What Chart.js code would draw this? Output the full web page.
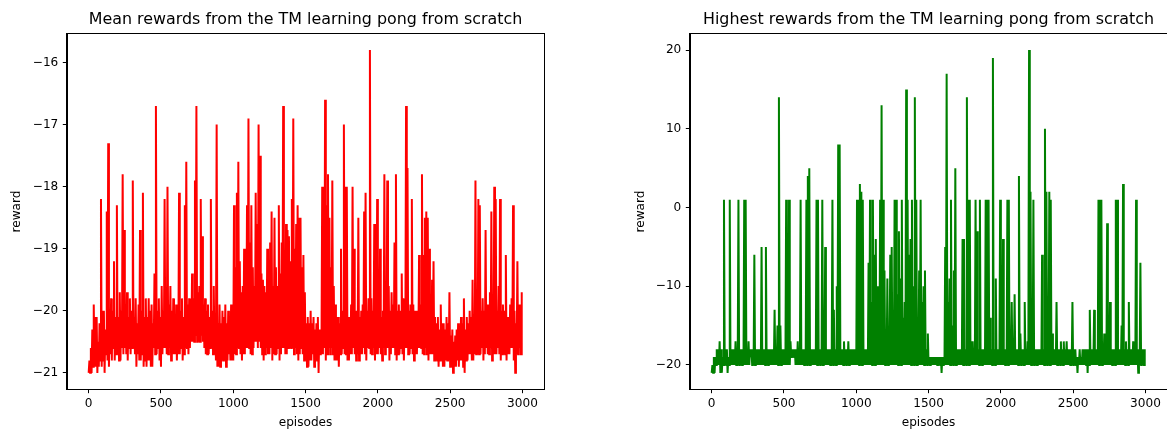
<!DOCTYPE html>
<html>
<head>
<meta charset="utf-8">
<script src="https://cdn.jsdelivr.net/npm/chart.js@4.4.0/dist/chart.umd.min.js"></script>
<style>
  html, body { margin: 0; padding: 0; background: #fff; }
  body { width: 1167px; height: 432px; position: relative; overflow: hidden; }
  .panel { position: absolute; top: 0; height: 432px; }
  #left { left: 0; width: 560px; }
  #right { left: 624px; width: 543px; }
</style>
</head>
<body>
<div class="panel" id="left"><canvas id="meanChart"></canvas></div>
<div class="panel" id="right"><canvas id="highChart"></canvas></div>
<script>
// the runs are too dense to read point by point, so every 10 episodes
// keep the lowest and the highest value
const meanLow = [
  -21.0,-21.0,-21.0,-20.9,-20.9,-20.9,-21.0,-20.9,-20.8,-20.9,
  -20.8,-21.0,-20.7,-20.8,-20.9,-20.7,-20.8,-20.6,-20.8,-20.7,
  -20.7,-20.8,-20.8,-20.6,-20.7,-20.6,-20.7,-20.8,-20.6,-20.7,
  -20.6,-20.6,-20.7,-20.9,-20.7,-20.8,-20.8,-20.7,-20.9,-20.8,
  -20.9,-20.8,-20.8,-20.9,-20.9,-20.6,-20.7,-20.7,-20.6,-20.8,
  -20.9,-20.7,-20.6,-20.6,-20.7,-20.7,-20.6,-20.8,-20.7,-20.7,
  -20.7,-20.8,-20.7,-20.7,-20.6,-20.8,-20.7,-20.6,-20.6,-20.7,
  -20.6,-20.5,-20.5,-20.5,-20.4,-20.5,-20.5,-20.5,-20.4,-20.5,
  -20.6,-20.7,-20.7,-20.7,-20.6,-20.6,-20.7,-20.7,-20.8,-20.9,
  -20.9,-20.9,-20.8,-20.8,-20.8,-20.9,-20.8,-20.7,-20.8,-20.8,
  -20.8,-20.7,-20.7,-20.6,-20.6,-20.7,-20.8,-20.7,-20.7,-20.6,
  -20.6,-20.6,-20.7,-20.7,-20.6,-20.5,-20.5,-20.6,-20.5,-20.6,
  -20.7,-20.8,-20.7,-20.6,-20.7,-20.7,-20.6,-20.8,-20.7,-20.7,
  -20.7,-20.6,-20.8,-20.7,-20.6,-20.6,-20.7,-20.7,-20.6,-20.6,
  -20.6,-20.6,-20.7,-20.6,-20.7,-20.8,-20.7,-20.6,-20.7,-20.8,
  -20.8,-20.9,-20.9,-20.8,-20.8,-20.7,-20.9,-20.8,-20.8,-21.0,
  -20.7,-20.7,-20.7,-20.6,-20.8,-20.7,-20.6,-20.7,-20.6,-20.7,
  -20.8,-20.8,-20.8,-20.9,-20.7,-20.7,-20.6,-20.7,-20.7,-20.8,
  -20.8,-20.7,-20.7,-20.6,-20.7,-20.8,-20.7,-20.8,-20.7,-20.7,
  -20.6,-20.7,-20.8,-20.6,-20.6,-20.7,-20.7,-20.6,-20.8,-20.7,
  -20.7,-20.6,-20.7,-20.8,-20.6,-20.7,-20.6,-20.6,-20.8,-20.7,
  -20.6,-20.6,-20.7,-20.8,-20.7,-20.7,-20.6,-20.7,-20.8,-20.6,
  -20.6,-20.7,-20.7,-20.6,-20.7,-20.8,-20.7,-20.7,-20.6,-20.6,
  -20.6,-20.7,-20.7,-20.6,-20.7,-20.8,-20.7,-20.7,-20.7,-20.8,
  -20.8,-20.8,-20.9,-20.8,-20.8,-20.9,-20.9,-20.8,-20.8,-20.8,
  -20.9,-20.9,-21.0,-20.9,-20.9,-20.8,-20.9,-20.8,-20.8,-20.9,
  -21.0,-20.8,-20.8,-20.7,-20.7,-20.8,-20.8,-20.7,-20.7,-20.7,
  -20.7,-20.7,-20.6,-20.8,-20.7,-20.6,-20.7,-20.7,-20.6,-20.8,
  -20.7,-20.7,-20.7,-20.6,-20.7,-20.8,-20.7,-20.7,-20.7,-20.8,
  -20.7,-20.7,-20.6,-20.6,-20.8,-21.0,-20.7,-20.7,-20.6,-20.7
];
const meanHigh = [
  -20.8,-20.6,-20.3,-19.9,-20.1,-20.1,-20.5,-20.2,-18.2,-20.0,
  -20.0,-20.3,-18.4,-17.3,-20.1,-19.8,-20.0,-19.2,-20.1,-18.3,
  -20.1,-19.7,-20.0,-17.8,-18.7,-19.9,-19.7,-20.1,-19.8,-20.0,
  -17.9,-20.1,-19.8,-20.2,-19.9,-18.7,-20.0,-18.1,-20.1,-19.8,
  -20.1,-19.8,-20.0,-19.9,-20.2,-19.4,-16.7,-20.0,-19.8,-20.1,
  -19.6,-20.0,-18.2,-20.1,-18.0,-19.9,-19.6,-20.0,-19.8,-20.1,
  -19.9,-20.1,-18.1,-20.0,-19.8,-20.1,-18.3,-17.6,-19.9,-19.8,
  -19.9,-19.4,-19.8,-17.9,-16.7,-19.7,-19.6,-18.2,-18.8,-19.9,
  -19.8,-20.0,-19.9,-20.1,-18.2,-20.0,-19.6,-20.1,-17.0,-20.2,
  -19.9,-20.2,-20.0,-20.1,-19.9,-20.2,-20.0,-20.1,-19.9,-20.1,
  -18.3,-19.3,-18.1,-17.6,-19.2,-19.7,-19.6,-19.0,-19.4,-18.3,
  -16.9,-18.9,-18.3,-19.3,-19.6,-18.1,-18.6,-17.0,-17.5,-19.4,
  -19.5,-19.6,-19.7,-19.0,-19.5,-18.9,-18.4,-19.6,-18.5,-19.3,
  -19.6,-18.3,-19.4,-18.9,-16.7,-19.2,-18.6,-18.7,-18.8,-19.2,
  -18.2,-16.9,-19.0,-18.6,-18.3,-18.5,-18.5,-19.3,-19.1,-19.7,
  -20.2,-20.1,-20.2,-20.0,-20.2,-20.1,-20.3,-20.2,-20.1,-20.3,
  -20.3,-18.0,-19.1,-16.6,-18.3,-17.8,-18.5,-19.3,-17.9,-19.6,
  -19.9,-20.1,-20.1,-20.2,-19.0,-20.0,-17.0,-18.0,-18.0,-20.1,
  -20.1,-19.9,-18.0,-19.0,-20.0,-20.0,-18.5,-20.1,-20.0,-19.9,
  -18.4,-18.1,-20.0,-19.8,-15.8,-19.8,-20.0,-18.6,-20.0,-18.2,
  -20.0,-19.0,-20.1,-20.0,-17.8,-19.9,-17.9,-19.6,-20.0,-19.7,
  -19.9,-18.9,-17.8,-20.0,-19.9,-20.0,-19.4,-19.8,-20.0,-16.7,
  -17.7,-20.0,-19.9,-18.2,-19.9,-20.0,-20.0,-20.1,-19.1,-19.9,
  -17.8,-19.1,-18.5,-18.4,-18.5,-19.0,-19.9,-19.5,-19.2,-20.1,
  -20.2,-20.1,-20.3,-19.9,-20.2,-20.2,-20.3,-20.1,-20.2,-19.7,
  -20.4,-20.3,-20.5,-20.4,-20.3,-20.2,-20.3,-20.1,-20.2,-19.8,
  -20.3,-20.1,-20.2,-20.0,-20.1,-19.5,-20.1,-17.9,-20.0,-18.2,
  -18.3,-20.0,-19.8,-20.0,-18.7,-19.9,-19.9,-19.7,-18.4,-20.0,
  -18.0,-18.2,-20.0,-19.6,-18.2,-20.0,-19.9,-20.0,-19.1,-20.1,
  -20.1,-19.9,-19.8,-18.3,-20.0,-20.2,-19.2,-19.9,-19.9,-19.7
];

const highestLow = [
  -21,-21,-21,-20,-20,-20,-21,-21,-20,-20,
  -20,-21,-20,-20,-20,-20,-20,-20,-20,-20,
  -20,-20,-20,-20,-20,-20,-20,-19,-20,-20,
  -20,-20,-20,-20,-20,-20,-20,-20,-20,-20,
  -20,-20,-20,-20,-20,-20,-20,-20,-20,-20,
  -20,-20,-20,-20,-20,-19,-19,-19,-20,-20,
  -20,-20,-20,-20,-20,-20,-20,-20,-20,-20,
  -20,-20,-20,-20,-20,-20,-20,-20,-20,-20,
  -20,-20,-20,-20,-20,-20,-20,-20,-20,-20,
  -20,-20,-20,-20,-20,-20,-20,-20,-20,-20,
  -20,-20,-20,-20,-20,-20,-20,-20,-20,-20,
  -20,-20,-20,-20,-20,-20,-20,-20,-20,-20,
  -20,-20,-20,-20,-20,-20,-20,-20,-20,-20,
  -20,-20,-20,-20,-20,-20,-20,-20,-20,-20,
  -20,-20,-20,-20,-20,-20,-20,-20,-20,-20,
  -20,-20,-20,-20,-20,-20,-20,-20,-20,-21,
  -20,-20,-20,-20,-20,-20,-20,-20,-20,-20,
  -20,-20,-20,-20,-20,-20,-20,-20,-20,-20,
  -20,-20,-20,-20,-20,-20,-20,-20,-20,-20,
  -20,-20,-20,-20,-20,-20,-20,-20,-20,-20,
  -20,-20,-20,-20,-20,-20,-20,-20,-20,-20,
  -20,-20,-20,-20,-20,-20,-20,-20,-20,-20,
  -20,-20,-20,-20,-20,-20,-20,-20,-20,-20,
  -20,-20,-20,-20,-20,-20,-20,-20,-20,-20,
  -20,-20,-20,-20,-20,-20,-20,-20,-20,-20,
  -20,-20,-20,-21,-20,-20,-20,-20,-20,-20,
  -21,-20,-20,-20,-20,-20,-20,-20,-20,-20,
  -20,-20,-20,-20,-20,-20,-20,-20,-20,-20,
  -20,-20,-20,-20,-20,-20,-20,-20,-20,-20,
  -20,-20,-20,-20,-20,-21,-20,-20,-20,-20
];
const highestHigh = [
  -20,-19,-19,-18,-18,-17,-18,-19,  1,-18,
  -18,-19,  1,-18,-18,-18,-17,-18,  1,-18,
  -18,-18,  1,  1,-18,-17,-18,-18,-18, -6,
  -18,-18,-18,-18, -5,-18,-18, -5,-18,-18,
  -18,-18,-18,-13,-18,-15, 14,-15,-18,-18,
  -18,  1,-14,  1,-17,-18,-18,-18,-18,-17,
  -18,  1,-18,-18,-18,  1,  4,  5,-18,-18,
  -18,-18,  1,  1,-18,-18,  1,-18, -5,-18,
  -18,-18,-18,  1,-13,-18,-10,  8,  8,-18,
  -18,-17,-18,-18,-17,-18,-18,-18,-18,-18,
    1,  1,  3,  2,  1,-18,-18,-18, -7,  1,
  -12,  1, -6, -4,-10,-15,  1, 13,  1, -8,
  -16, -9,-17, -6, -5,-14,  1,  1,-11, -3,
   -9,  1,-14,-12, 15,  1, -6, -4,  1,-10,
   14,  1,-15, -8,  1,-12,-10, -8,-18,-16,
  -19,-19,-19,-19,-19,-19,-19,-19,-19,-19,
  -19, -5, 17,-12, -9,  1,-15, -8,  5,-18,
  -18,-18,-18, -4, -4,-18, 14,  1,  1,-17,
  -17,-18,  1, -3,-18,  1,-18,-18,-18,  1,
    1,  1,-14,-18, 19,-18, -9,-18,-18,  1,
  -18, -4,-18,-18,  1,  1,-18,-12,-18,-11,
  -18,-18,  4,-16,-18,-18,-12,-18,-17, 20,
    2,-18,  1,-18,-18,-18,-18,-18, -6,-18,
   10,  2,-18,  2,  1,-16,-18,-18,-12,-18,
  -18,-17,-18,-17,-18,-17,-18,-18,-18,-12,
  -18,-18,-19,-19,-18,-19,-18,-18,-18,-18,
  -18,-13,-18,-18,-13,-18,-18,  1,  1,  1,
  -18,-16,-18, -2,-18,-12,-18,-18,-18,  1,
    1,-18,-18,-15,  3,-18,-17,-18,-12,-18,
  -18,-17,-18,  1,-18,-18, -7,-18,-18,-18
];

const bucket = 10;   // episodes per low/high pair
const xTicks = [0, 500, 1000, 1500, 2000, 2500, 3000];
const meanTicks = [-21, -20, -19, -18, -17, -16];
const highestTicks = [-20, -10, 0, 10, 20];

const FONT = 'DejaVu Sans';

// matplotlib draws a full box round the axes
const boxPlugin = {
  id: 'box',
  afterDatasetsDraw(chart) {
    const a = chart.chartArea;
    const ctx = chart.ctx;
    ctx.save();
    ctx.strokeStyle = '#000';
    ctx.lineWidth = 1;
    ctx.strokeRect(Math.round(a.left) - 0.5, Math.round(a.top) - 0.5,
                   Math.round(a.right - a.left) + 1, Math.round(a.bottom - a.top) + 1);
    ctx.restore();
  }
};

const minus = v => String(v).replace('-', '\u2212');

// low at the start of each bucket, high in its middle
function toPoints(lows, highs) {
  const pts = [];
  lows.forEach((lo, k) => {
    pts.push({ x: k * bucket, y: lo });
    pts.push({ x: k * bucket + bucket / 2, y: highs[k] });
  });
  return pts;
}

function makeChart(id, title, points, color, yMin, yMax, yTicks, yWidth, padRight, yTitlePad) {
  return new Chart(document.getElementById(id), {
    type: 'line',
    data: {
      datasets: [{
        data: points,
        borderColor: color,
        borderWidth: 2,
        pointRadius: 0,
        tension: 0,
        fill: false
      }]
    },
    options: {
      responsive: true,
      maintainAspectRatio: false,
      animation: false,
      events: [],
      layout: { padding: { top: 0, right: padRight, bottom: 0, left: 0 } },
      plugins: {
        legend: { display: false },
        tooltip: { enabled: false },
        title: {
          display: true,
          fullSize: false,
          text: title,
          color: '#000',
          font: { family: FONT, size: 15.9, weight: 'normal' },
          padding: { top: 10, bottom: 4.9 }
        }
      },
      scales: {
        x: {
          type: 'linear',
          min: -150,
          max: 3149,
          afterBuildTicks: s => { s.ticks = xTicks.map(v => ({ value: v })); },
          afterFit: s => { s.height = 43; },
          grid: { drawOnChartArea: false, color: '#000', tickLength: 4.2, tickWidth: 1 },
          border: { display: true, color: '#000', width: 1 },
          ticks: { color: '#000', font: { family: FONT, size: 12.1 }, padding: 3, maxRotation: 0, autoSkip: false,
                   callback: v => String(v) },
          title: { display: true, text: 'episodes', color: '#000', font: { family: FONT, size: 12.1 }, padding: { top: 0, bottom: 1.5 } }
        },
        y: {
          type: 'linear',
          min: yMin,
          max: yMax,
          afterBuildTicks: s => { s.ticks = yTicks.map(v => ({ value: v })); },
          afterFit: s => { s.width = yWidth; },
          grid: { drawOnChartArea: false, color: '#000', tickLength: 4.2, tickWidth: 1 },
          border: { display: true, color: '#000', width: 1 },
          ticks: { color: '#000', font: { family: FONT, size: 12.1 }, padding: 4.5, callback: v => minus(v) },
          title: { display: true, text: 'reward', color: '#000', font: { family: FONT, size: 12.1 }, padding: { top: yTitlePad, bottom: 0 } }
        }
      }
    },
    plugins: [boxPlugin]
  });
}

makeChart('meanChart', 'Mean rewards from the TM learning pong from scratch',
  toPoints(meanLow, meanHigh), '#ff0000', -21.26, -15.54, meanTicks, 67, 16, 9.5);
makeChart('highChart', 'Highest rewards from the TM learning pong from scratch',
  toPoints(highestLow, highestHigh), '#008000', -23.05, 22.05, highestTicks, 66, 0, 10);
</script>
</body>
</html>
